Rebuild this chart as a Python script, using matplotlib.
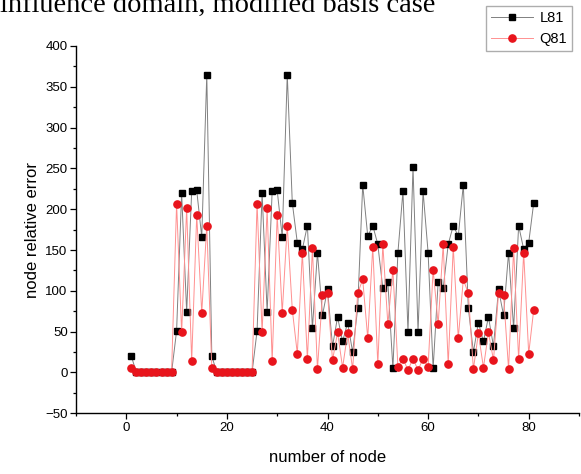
import matplotlib.pyplot as plt
from matplotlib.ticker import MultipleLocator

# node numbers 1..81
nodes = list(range(1, 82))

# L81 relative error (black squares)
l81 = [20, 0, 0, 0, 0, 0, 0, 0, 0, 51, 220, 74, 222, 223, 166, 365,
       20, 0, 0, 0, 0, 0, 0, 0, 0, 51, 220, 74, 222, 223, 166, 365,
       208, 159, 151, 180, 54, 147, 70, 102, 32, 68, 38, 61, 25, 79, 230,
       167, 180, 157, 103, 111, 5, 147, 222, 50, 252, 50, 222, 147, 5,
       111, 103, 157, 180, 167, 230, 79, 25, 61, 38, 68, 32, 102, 70,
       147, 54, 180, 151, 159, 208]

# Q81 relative error (red circles)
q81 = [5, 0, 0, 0, 0, 0, 0, 0, 0, 207, 49, 201, 14, 193, 73, 180,
       5, 0, 0, 0, 0, 0, 0, 0, 0, 207, 49, 201, 14, 193, 73, 180,
       77, 23, 147, 16, 152, 4, 95, 97, 15, 49, 6, 48, 4, 97, 114,
       42, 154, 10, 157, 59, 126, 7, 17, 3, 17, 3, 17, 7, 126,
       59, 157, 10, 154, 42, 114, 97, 4, 48, 6, 49, 15, 97, 95,
       4, 152, 16, 147, 23, 77]

plt.rcParams['font.family'] = ['Liberation Sans', 'DejaVu Sans']

fig = plt.figure(figsize=(5.81, 4.74), dpi=100)
ax = fig.add_axes([76 / 581, 1 - 413.3 / 474, (579 - 76) / 581, (413.3 - 46) / 474])

ax.plot(nodes, l81, color='#808080', lw=0.7, marker='s', ms=4.6,
        mfc='black', mec='black', label='L81')
ax.plot(nodes, q81, color='#ff9090', lw=0.7, marker='o', ms=5.2,
        mfc='#e8141c', mec='#e8141c', label='Q81')

ax.set_xlim(-10, 90)
ax.set_ylim(-50, 400)
ax.xaxis.set_major_locator(MultipleLocator(20))
ax.xaxis.set_minor_locator(MultipleLocator(10))
ax.yaxis.set_major_locator(MultipleLocator(50))
ax.yaxis.set_minor_locator(MultipleLocator(25))
ax.tick_params(which='major', direction='out', length=4, width=0.9,
               labelsize=9.5, pad=2)
ax.tick_params(which='minor', direction='out', length=2.5, width=0.9)

ax.spines['top'].set_visible(False)
ax.spines['right'].set_visible(False)
for s in ['left', 'bottom']:
    ax.spines[s].set_linewidth(1.0)

ax.set_xlabel('number of node', fontsize=12, labelpad=12)
ax.set_ylabel('node relative error', fontsize=12, labelpad=4)

fig.legend(loc='upper right', bbox_to_anchor=(572 / 581, 1 - 6 / 474),
           fontsize=10.5, frameon=True, fancybox=False, edgecolor='#999999',
           handlelength=2.9, borderpad=0.35, labelspacing=0.45,
           handletextpad=0.4, borderaxespad=0)

# caption text cut off at the top of the image
fig.text(0, 1 - 12 / 474, 'influence domain, modified basis case',
         fontsize=20.5, family='Liberation Serif', va='baseline', ha='left')

fig.savefig('out.png', dpi=100)
